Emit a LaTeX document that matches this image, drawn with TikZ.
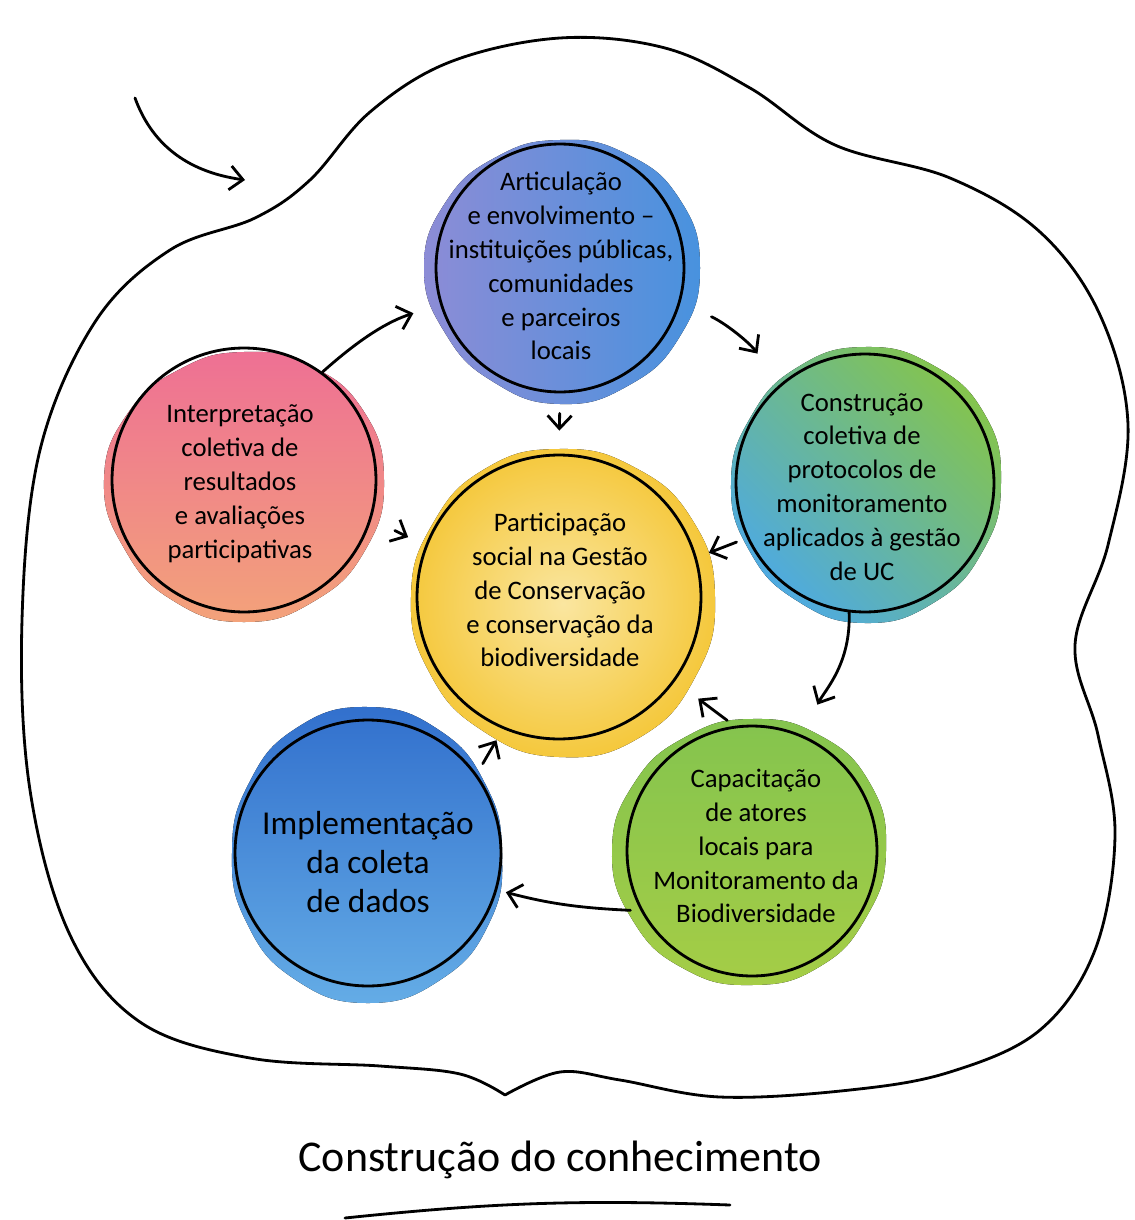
\documentclass[tikz,border=0pt]{standalone}
\usepackage{fontspec}
\setmainfont{Carlito}
\usetikzlibrary{positioning, arrows.meta, backgrounds}

\definecolor{wcviolet}{RGB}{140,140,214}
\definecolor{wcblue}{RGB}{72,146,222}
\definecolor{wcpink}{RGB}{238,112,148}
\definecolor{wcsalmon}{RGB}{243,162,122}
\definecolor{wcyellow}{RGB}{245,200,60}
\definecolor{wclemon}{RGB}{250,230,160}
\definecolor{wcteal}{RGB}{78,170,225}
\definecolor{wcgreen}{RGB}{132,196,78}
\definecolor{wclime}{RGB}{165,205,70}
\definecolor{wcsky}{RGB}{100,172,230}
\definecolor{wcnavy}{RGB}{50,112,205}

\begin{document}
\begin{tikzpicture}[
    x=0.02cm, y=-0.02cm,
    ring/.style={circle, draw=black, line width=1.6pt, inner sep=0pt},
    txt/.style={align=center, font=\fontsize{15.2}{19.3}\selectfont},
    arrow/.style={-{Straight Barb[length=2.6mm, width=4.8mm, line width=1.6pt]}, line width=1.6pt, line cap=round},
    outline/.style={line width=1.6pt, line cap=round, line join=round}
]
\useasboundingbox (0,0) rectangle (1134,1220);

% Rings
\node[ring, minimum size=4.96cm] (artic) at (560,268) {};
\node[ring, minimum size=5.28cm] (interp) at (244,480) {};
\node[ring, minimum size=5.68cm] (centre) at (559,597) {};
\node[ring, minimum size=5.16cm] (proto) at (865,483) {};
\node[ring, minimum size=5cm] (capac) at (752,851) {};
\node[ring, minimum size=5.32cm] (implem) at (368,853) {};

% Texts
\node[txt] (artic-t) at (561,266) {Articulação\\e envolvimento –\\instituições públicas,\\comunidades\\e parceiros\\locais};
\node[txt] (interp-t) at (240,484) {Interpretação\\coletiva de\\resultados\\e avaliações\\participativas};
\node[txt] (centre-t) at (560,590) {Participação\\social na Gestão\\de Conservação\\e conservação da\\biodiversidade};
\node[txt] (proto-t) at (862,487) {Construção\\coletiva de\\protocolos de\\monitoramento\\aplicados à gestão\\de UC};
\node[txt] (capac-t) at (756,846) {Capacitação\\de atores\\locais para\\Monitoramento da\\Biodiversidade};
\node[txt, font=\fontsize{19}{22}\selectfont] (implem-t) at (368,862) {Implementação\\da coleta\\de dados};

% Title
\node[font=\fontsize{25}{30}\selectfont] (title) at (560,1160) {Construção do conhecimento};
\draw[outline] (345,1218) to[bend left=4] (730,1205);

% Watercolour patches
\begin{pgfonlayer}{background}
\fill[left color=wcviolet, right color=wcblue, shift={(artic.center)}]
    plot[smooth cycle, tension=0.8] coordinates {(0:140) (30:138) (60:136) (90:136) (120:132) (150:132) (180:136) (210:132) (240:128) (270:128) (300:132) (330:138)};
\fill[top color=wcpink, bottom color=wcsalmon, shift={(interp.center)}]
    plot[smooth cycle, tension=0.8] coordinates {(0:140) (30:140) (60:140) (90:142) (120:140) (150:138) (180:140) (210:134) (240:128) (270:128) (300:132) (330:138)};
\fill[inner color=wclemon, outer color=wcyellow, shift={(centre.center)}]
    plot[smooth cycle, tension=0.8] coordinates {(0:156) (30:158) (60:162) (90:160) (120:154) (150:150) (180:148) (210:146) (240:148) (270:148) (300:150) (330:154)};
\fill[top color=wcgreen, bottom color=wcteal, shading angle=-45, shift={(proto.center)}]
    plot[smooth cycle, tension=0.8] coordinates {(0:136) (30:136) (60:138) (90:140) (120:136) (150:134) (180:134) (210:132) (240:134) (270:136) (300:136) (330:138)};
\fill[top color=wcgreen, bottom color=wclime, shift={(capac.center)}]
    plot[smooth cycle, tension=0.8] coordinates {(0:134) (30:132) (60:134) (90:134) (120:136) (150:138) (180:140) (210:136) (240:132) (270:132) (300:134) (330:136)};
\fill[top color=wcnavy, bottom color=wcsky, shift={(implem.center)}]
    plot[smooth cycle, tension=0.8] coordinates {(0:134) (30:140) (60:146) (90:150) (120:146) (150:140) (180:136) (210:138) (240:144) (270:146) (300:142) (330:136)};
\end{pgfonlayer}

% Outer outline
\draw[outline] plot[smooth, tension=0.6] coordinates {
    (505,1095) (460,1074) (380,1066) (250,1058) (140,1022) (70,935) (30,790) (22,620)
    (40,450) (95,322) (170,250) (255,218) (310,180) (370,112) (450,62) (560,38) (665,48)
    (750,88) (835,145) (950,178) (1040,232) (1100,315) (1128,425) (1108,545) (1075,645)
    (1098,735) (1115,835) (1095,950) (1040,1030) (950,1072) (850,1090) (720,1097)
    (620,1080) (560,1072) (505,1095)};

% Entry arrow
\coordinate (entry-a) at (135,98);
\coordinate (entry-b) at (245,180);
\draw[arrow] (entry-a) to[out=-70, in=172] (entry-b);

% Cycle arrows
\draw[arrow, shorten >=0.56cm] (interp.54) to[bend left=12] (artic.197);
\draw[arrow, shorten <=0.68cm, shorten >=0.76cm] (artic.-16) to[bend left=15] (proto.131);
\draw[arrow, shorten >=0.68cm] (proto.-97) to[out=-88, in=62] (capac.67);
\draw[arrow, shorten >=0.18cm] ([xshift=-0.2cm]capac.208) to[bend left=6] (implem.-16);

% Arrows to centre
\draw[arrow, shorten <=0.4cm, shorten >=0.46cm] (artic.south) -- (centre.north);
\draw[arrow, shorten <=0.52cm, shorten >=0.38cm] (interp.-17) -- (centre.159);
\draw[arrow, shorten <=0.22cm, shorten >=0.26cm] (proto.205) -- (centre.16);
\draw[arrow, shorten <=0.18cm, shorten >=0.58cm] (capac.98) -- (centre.-36);
\draw[arrow, shorten <=0.24cm, shorten >=0.26cm] (implem.36) -- (centre.247);

\end{tikzpicture}
\end{document}
